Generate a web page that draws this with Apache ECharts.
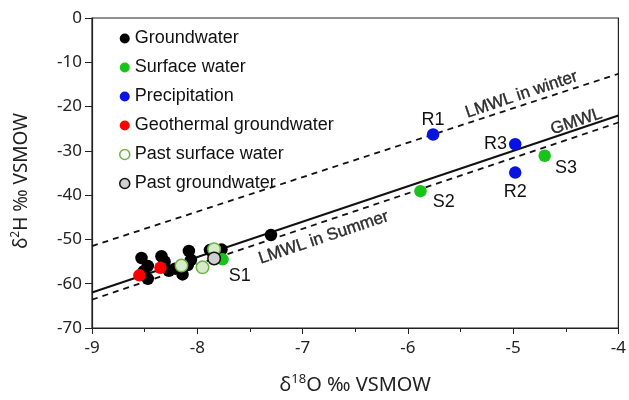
<!DOCTYPE html>
<html>
<head>
<meta charset="utf-8">
<script src="https://cdn.jsdelivr.net/npm/echarts@6/dist/echarts.min.js"></script>
<style>html,body{margin:0;padding:0;background:#fff}#c{width:629px;height:400px}</style>
</head>
<body>
<div id="c"></div>
<script>
// ---- data ----
const xTicks = [-9, -8, -7, -6, -5, -4];
const yTicks = [0, -10, -20, -30, -40, -50, -60, -70];

const groundwater = [
  [-8.53, -54.2], [-8.47, -56.0], [-8.51, -57.2], [-8.47, -58.9],
  [-8.34, -53.8], [-8.31, -55.0], [-8.27, -57.1], [-8.21, -56.6],
  [-8.14, -57.9], [-8.08, -52.6], [-8.06, -54.6], [-8.09, -55.8],
  [-7.88, -52.4], [-7.77, -52.3], [-7.79, -53.6], [-7.30, -49.0]
];
const surfaceWater = [
  [-7.76, -54.5, 'S1'], [-5.88, -39.1, 'S2'], [-4.70, -31.1, 'S3']
];
const precipitation = [
  [-5.76, -26.3, 'R1'], [-4.98, -34.9, 'R2'], [-4.98, -28.5, 'R3']
];
const geothermal = [
  [-8.55, -58.1], [-8.35, -56.4]
];
const pastSurface = [
  [-8.15, -55.9], [-7.95, -56.3], [-7.84, -52.2]
];
const pastGround = [
  [-7.84, -54.3]
];
// lines: endpoints
const gmwl = [[-9, -62], [-4, -22]];
const lmwlWinter = [[-9, -51.5], [-4, -12.6]];
const lmwlSummer = [[-9, -63.6], [-4, -23.6]];
const lineLabels = [
  [-4.92, -17.3, 'LMWL in winter'],
  [-4.40, -23.4, 'GMWL'],
  [-6.80, -49.6, 'LMWL in Summer']
];

const labelPos = { R1: 'top', R2: 'bottom', R3: 'left', S1: 'right', S2: 'right', S3: 'right' };
const labelOff = { R1: [0, 2], R2: [0, 0], R3: [2, 0], S1: [-4, 17], S2: [2, 11], S3: [0, 12] };

const txt = 'Liberation Sans, Arial, sans-serif';
const axisFont = 'Noto Sans, sans-serif';

function labeled(arr) {
  return arr.map(d => ({
    value: [d[0], d[1]],
    label: {
      show: true, formatter: d[2], position: labelPos[d[2]], offset: labelOff[d[2]],
      distance: d[2] === 'R1' ? 1 : 4, color: '#111', fontSize: 18, fontFamily: txt
    }
  }));
}

const chart = echarts.init(document.getElementById('c'), null, { renderer: 'canvas' });
const MS = 12.5;
const titleRichX = {
  a: { fontSize: 20, fontFamily: axisFont, color: '#222', lineHeight: 24 },
  s: { fontSize: 13, fontFamily: axisFont, color: '#222', lineHeight: 14, verticalAlign: 'top' }
};
const titleRichY = {
  a: { fontSize: 19, fontFamily: axisFont, color: '#222', lineHeight: 24 },
  s: { fontSize: 12, fontFamily: axisFont, color: '#222', lineHeight: 14, verticalAlign: 'top' }
};
chart.setOption({
  animation: false,
  backgroundColor: '#fff',
  grid: { left: 92, right: 9, top: 18, bottom: 66, show: true, borderColor: '#222', borderWidth: 1.2, backgroundColor: 'transparent' },
  legend: {
    orient: 'vertical', left: 114, top: 24, itemGap: 10, itemWidth: 10, itemHeight: 10,
    icon: 'circle',
    textStyle: { fontSize: 18, fontFamily: txt, color: '#111', lineHeight: 19 },
    data: [
      { name: 'Groundwater' },
      { name: 'Surface water' },
      { name: 'Precipitation' },
      { name: 'Geothermal groundwater' },
      { name: 'Past surface water', itemStyle: { color: '#fff', borderColor: '#6cb34a', borderWidth: 1.5 } },
      { name: 'Past groundwater', itemStyle: { color: '#d0d0d0', borderColor: '#111', borderWidth: 1.5 } }
    ]
  },
  xAxis: {
    type: 'value', min: -9, max: -4, interval: 1,
    name: '{a|δ}{s|18}{a|O ‰ VSMOW}', nameLocation: 'middle', nameGap: 45,
    nameTextStyle: { fontSize: 20, fontFamily: axisFont, color: '#222', rich: titleRichX },
    axisLine: { onZero: false, lineStyle: { color: '#222', width: 1.2 } },
    axisTick: { show: true, length: 6, lineStyle: { color: '#222' } },
    minorTick: { show: true, splitNumber: 2, length: 4, lineStyle: { color: '#222' } },
    axisLabel: { fontSize: 17, fontFamily: axisFont, color: '#222', margin: 12,
      formatter: v => xTicks.includes(v) ? String(v) : '' },
    splitLine: { show: false }
  },
  yAxis: {
    type: 'value', min: -70, max: 0, interval: 10,
    name: '{a|δ}{s|2}{a|H ‰ VSMOW}', nameLocation: 'middle', nameGap: 58,
    nameTextStyle: { fontSize: 19, fontFamily: axisFont, color: '#222', rich: titleRichY, padding: [0, 16, 0, 0] },
    axisLine: { onZero: false, lineStyle: { color: '#222', width: 1.2 } },
    axisTick: { show: true, length: 7, lineStyle: { color: '#222' } },
    axisLabel: { fontSize: 17, fontFamily: axisFont, color: '#222', margin: 10,
      formatter: v => yTicks.includes(v) ? String(v) : '' },
    splitLine: { show: false }
  },
  series: [
    { type: 'line', data: lmwlWinter, symbol: 'none', silent: true, z: 1,
      lineStyle: { color: '#111', width: 1.8, type: [6, 5] } },
    { type: 'line', data: gmwl, symbol: 'none', silent: true, z: 1,
      lineStyle: { color: '#111', width: 2 } },
    { type: 'line', data: lmwlSummer, symbol: 'none', silent: true, z: 1,
      lineStyle: { color: '#111', width: 1.8, type: [6, 5] } },
    { type: 'scatter', silent: true, z: 2, symbolSize: 1,
      itemStyle: { color: 'rgba(0,0,0,0)' },
      data: lineLabels.map(d => ({ value: [d[0], d[1]],
        label: { show: true, formatter: d[2], position: 'inside', rotate: 18.6,
          fontSize: 17, fontFamily: txt, color: '#000', textBorderColor: '#000', textBorderWidth: 0.4 } })) },
    { name: 'Groundwater', type: 'scatter', data: groundwater, symbolSize: MS, z: 3,
      itemStyle: { color: '#000', opacity: 1 } },
    { name: 'Surface water', type: 'scatter', data: labeled(surfaceWater), symbolSize: MS, z: 4,
      itemStyle: { color: '#19c419', opacity: 1 } },
    { name: 'Precipitation', type: 'scatter', data: labeled(precipitation), symbolSize: MS, z: 4,
      itemStyle: { color: '#0a12e0', opacity: 1 } },
    { name: 'Geothermal groundwater', type: 'scatter', data: geothermal, symbolSize: MS, z: 4,
      itemStyle: { color: '#f00', opacity: 1 } },
    { name: 'Past surface water', type: 'scatter', data: pastSurface, symbolSize: MS, z: 5,
      itemStyle: { color: '#d7ebc8', borderColor: '#6cb34a', borderWidth: 1.5, opacity: 1 } },
    { name: 'Past groundwater', type: 'scatter', data: pastGround, symbolSize: MS, z: 5,
      itemStyle: { color: '#cfcfcf', borderColor: '#111', borderWidth: 1.5, opacity: 1 } }
  ]
});
</script>
</body>
</html>
